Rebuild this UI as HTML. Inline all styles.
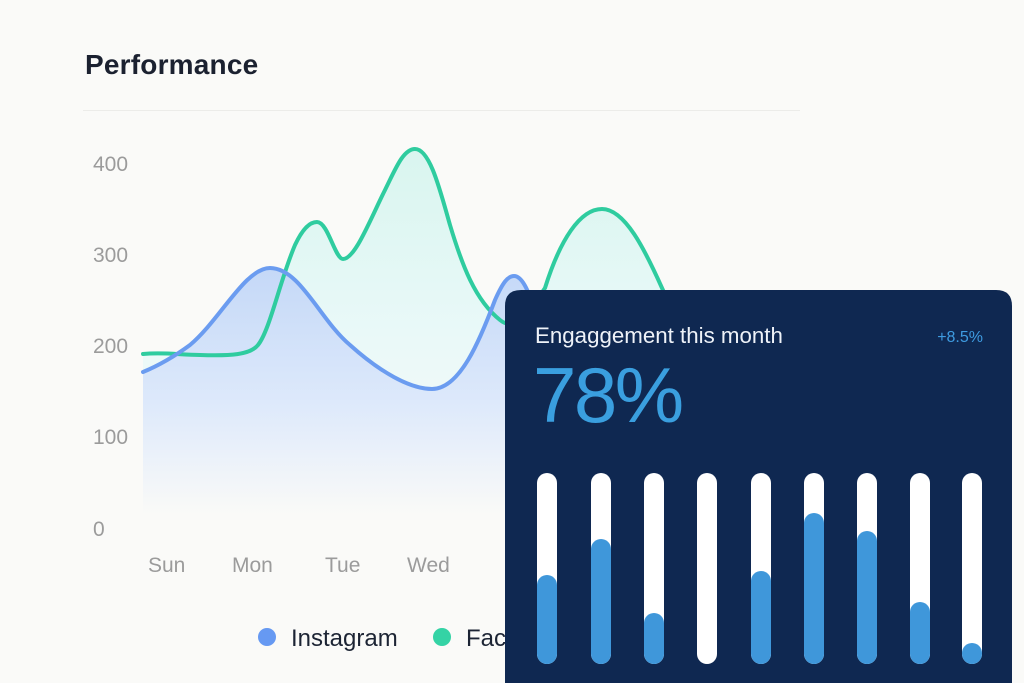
<!DOCTYPE html>
<html>
<head>
<meta charset="utf-8">
<style>
  html,body{margin:0;padding:0;background:#fafaf8;}
  body{width:1024px;height:683px;overflow:hidden;}
  svg{display:block;}
  text{font-family:"Liberation Sans",sans-serif;}
</style>
</head>
<body>
<svg width="1024" height="683" viewBox="0 0 1024 683" xmlns="http://www.w3.org/2000/svg">
  <defs>
    <linearGradient id="gBlue" gradientUnits="userSpaceOnUse" x1="0" y1="265" x2="0" y2="515">
      <stop offset="0" stop-color="#c4d8f7"/>
      <stop offset="0.55" stop-color="#dde9fb"/>
      <stop offset="1" stop-color="#fafaf8"/>
    </linearGradient>
    <linearGradient id="gGreen" gradientUnits="userSpaceOnUse" x1="0" y1="150" x2="0" y2="515">
      <stop offset="0" stop-color="#d9f5ef"/>
      <stop offset="0.5" stop-color="#e9f9f8"/>
      <stop offset="1" stop-color="#fafaf8"/>
    </linearGradient>
  </defs>
  <rect width="1024" height="683" fill="#fafaf8"/>

  <!-- Title -->
  <text x="85" y="74" font-size="28" font-weight="bold" fill="#1b2130" letter-spacing="0.2">Performance</text>
  <line x1="83" y1="110.5" x2="800" y2="110.5" stroke="#ecece9" stroke-width="1"/>

  <!-- Y labels -->
  <g font-size="21" fill="#9b9b9b">
    <text x="93" y="171">400</text>
    <text x="93" y="262">300</text>
    <text x="93" y="353">200</text>
    <text x="93" y="444">100</text>
    <text x="93" y="536">0</text>
  </g>
  <!-- X labels -->
  <g font-size="21" fill="#9b9b9b">
    <text x="148" y="572">Sun</text>
    <text x="232" y="572">Mon</text>
    <text x="325" y="572">Tue</text>
    <text x="407" y="572">Wed</text>
  </g>

  <!-- Green area -->
  <path d="M143,354 C165,352 180,355 200,355 C230,356 250,355 258,345 C270,330 280,280 295,245 C303,228 310,222 317,222 C328,222 335,259 343,259 C355,259 370,220 385,190 C395,170 403,149 415,149 C430,149 440,190 450,225 C462,265 475,300 500,320 C510,328 522,325 532,308 C537,300 540,295 545,288 C560,240 580,209 602,209 C625,209 645,250 662,288 C672,310 680,330 700,360 L700,530 L143,530 Z" fill="url(#gGreen)"/>
  <!-- Blue area -->
  <path d="M143,372 C160,365 175,356 190,345 C220,320 245,268 270,268 C300,268 320,320 350,345 C380,372 410,389 432,389 C460,389 480,340 495,300 C503,282 508,276 514,276 C522,276 528,290 535,310 L560,360 L560,530 L143,530 Z" fill="url(#gBlue)"/>

  <!-- Lines -->
  <path d="M143,354 C165,352 180,355 200,355 C230,356 250,355 258,345 C270,330 280,280 295,245 C303,228 310,222 317,222 C328,222 335,259 343,259 C355,259 370,220 385,190 C395,170 403,149 415,149 C430,149 440,190 450,225 C462,265 475,300 500,320 C510,328 522,325 532,308 C537,300 540,295 545,288 C560,240 580,209 602,209 C625,209 645,250 662,288 C672,310 680,330 700,360" fill="none" stroke="#2fcc9f" stroke-width="4" stroke-linecap="round"/>
  <path d="M143,372 C160,365 175,356 190,345 C220,320 245,268 270,268 C300,268 320,320 350,345 C380,372 410,389 432,389 C460,389 480,340 495,300 C503,282 508,276 514,276 C522,276 528,290 535,310 L560,360" fill="none" stroke="#6b9cf0" stroke-width="4" stroke-linecap="round"/>

  <!-- Legend -->
  <circle cx="267" cy="637" r="9" fill="#6699f2"/>
  <text x="291" y="646" font-size="24" fill="#1c2434">Instagram</text>
  <circle cx="442" cy="637" r="9" fill="#34d3a5"/>
  <text x="466" y="646" font-size="24" fill="#1c2434">Facebook</text>

  <!-- Card (top corners rounded, runs to bottom edge) -->
  <path d="M505,683 L505,306 Q505,290 521,290 L996,290 Q1012,290 1012,306 L1012,683 Z" fill="#0f2851"/>
  <text x="535" y="343" font-size="22.3" fill="#eef2f8">Engaggement this month</text>
  <text x="983" y="342" font-size="16" fill="#3e9be0" text-anchor="end">+8.5%</text>
  <text x="533" y="422" font-size="78" fill="#3a9fdf" letter-spacing="-2.5">78%</text>

  <!-- Bars -->
  <g>
    <rect x="537" y="473" width="20" height="191" rx="10" fill="#ffffff"/>
    <rect x="537" y="575" width="20" height="89" rx="10" fill="#3f97da"/>
    <rect x="591" y="473" width="20" height="191" rx="10" fill="#ffffff"/>
    <rect x="591" y="539" width="20" height="125" rx="10" fill="#3f97da"/>
    <rect x="644" y="473" width="20" height="191" rx="10" fill="#ffffff"/>
    <rect x="644" y="613" width="20" height="51" rx="10" fill="#3f97da"/>
    <rect x="697" y="473" width="20" height="191" rx="10" fill="#ffffff"/>
    <rect x="751" y="473" width="20" height="191" rx="10" fill="#ffffff"/>
    <rect x="751" y="571" width="20" height="93" rx="10" fill="#3f97da"/>
    <rect x="804" y="473" width="20" height="191" rx="10" fill="#ffffff"/>
    <rect x="804" y="513" width="20" height="151" rx="10" fill="#3f97da"/>
    <rect x="857" y="473" width="20" height="191" rx="10" fill="#ffffff"/>
    <rect x="857" y="531" width="20" height="133" rx="10" fill="#3f97da"/>
    <rect x="910" y="473" width="20" height="191" rx="10" fill="#ffffff"/>
    <rect x="910" y="602" width="20" height="62" rx="10" fill="#3f97da"/>
    <rect x="962" y="473" width="20" height="191" rx="10" fill="#ffffff"/>
    <rect x="962" y="643" width="20" height="21" rx="10" fill="#3f97da"/>
  </g>
</svg>
</body>
</html>
